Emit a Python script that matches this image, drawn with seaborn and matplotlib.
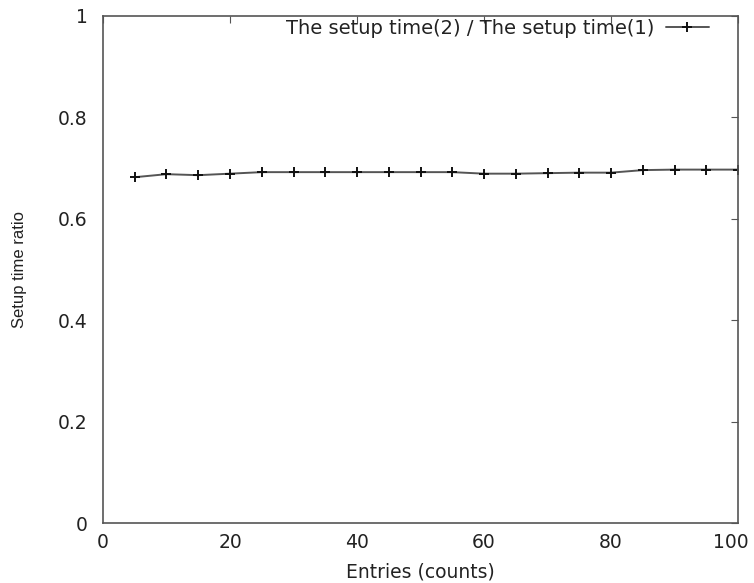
import matplotlib
matplotlib.use("Agg")
import matplotlib.pyplot as plt
import matplotlib.transforms as mtransforms
import seaborn as sns
import pandas as pd

entries = [5, 10, 15, 20, 25, 30, 35, 40, 45, 50, 55, 60, 65, 70, 75, 80, 85, 90, 95, 100]
ratio = [0.682, 0.688, 0.686, 0.689, 0.692, 0.692, 0.692, 0.692, 0.692, 0.692,
         0.692, 0.689, 0.689, 0.690, 0.691, 0.691, 0.696, 0.697, 0.697, 0.697]
series_label = "The setup time(2) / The setup time(1)"
x_ticks = [0, 20, 40, 60, 80, 100]
y_ticks = [0, 0.2, 0.4, 0.6, 0.8, 1]
y_tick_labels = ["0", "0.2", "0.4", "0.6", "0.8", "1"]

df = pd.DataFrame({"Entries": entries, "Ratio": ratio})

sns.set_theme(style="white")
plt.rcParams["font.family"] = ["DejaVu Sans"]

fig = plt.figure(figsize=(7.54, 5.83), dpi=100)
ax = fig.add_axes([0.1366, 0.1029, 0.8422, 0.8697])

sns.lineplot(data=df, x="Entries", y="Ratio", color="#555555", label=series_label,
             marker="+", markersize=7, markeredgewidth=1.4, markeredgecolor="#111111",
             linewidth=1.4, ax=ax)

ax.set_xlim(0, 100)
ax.set_ylim(0, 1)
ax.set_xticks(x_ticks)
ax.set_xticklabels([str(t) for t in x_ticks])
ax.set_yticks(y_ticks)
ax.set_yticklabels(y_tick_labels)
ax.tick_params(direction="in", length=5, width=0.8, color="#555555",
               top=True, right=True, labelsize=13.5, labelcolor="#222222")
ax.tick_params(axis="y", pad=11)
ax.tick_params(axis="x", pad=7)
for s in ax.spines.values():
    s.set_color("#555555")
    s.set_linewidth(1.2)

# keep the last x tick label inside the canvas, like the reference
last = ax.get_xticklabels()[-1]
last.set_transform(last.get_transform() +
                   mtransforms.ScaledTranslation(-5 / 72, 0, fig.dpi_scale_trans))

ax.set_xlabel("Entries (counts)", fontsize=13.5, color="#222222", labelpad=8)
ax.set_ylabel("Setup time ratio", fontsize=12, color="#222222", labelpad=22,
              family="Liberation Sans")

leg = ax.legend(loc="upper right", bbox_to_anchor=(0.966, 1.010), frameon=False,
                markerfirst=False, fontsize=14, handlelength=2.2, handletextpad=0.6,
                borderaxespad=0.0)
for t in leg.get_texts():
    t.set_color("#222222")

fig.savefig("out.png", dpi=100)
